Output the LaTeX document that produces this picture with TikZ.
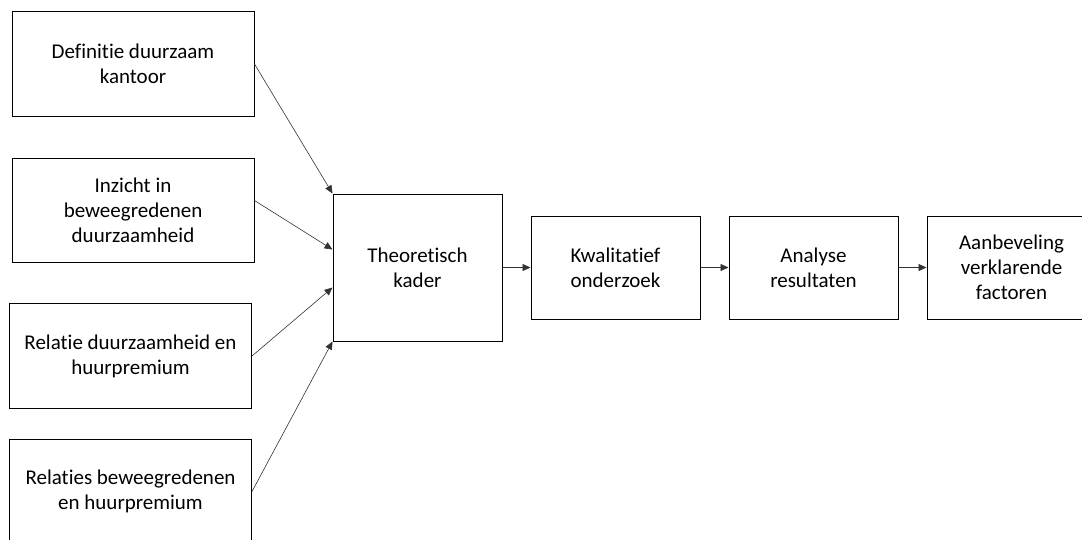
\documentclass[tikz,border=0pt]{standalone}
\usepackage{fontspec}
\setmainfont{Carlito}[Ligatures=NoCommon]
\usetikzlibrary{positioning,arrows.meta}
\tikzset{
inbox/.style={
draw,
line width=1pt,
minimum width=242pt,
minimum height=104.5pt,
align=center,
font=\fontsize{21}{25}\selectfont
},
stepbox/.style={
draw,
line width=1pt,
minimum width=169pt,
minimum height=103pt,
align=center,
font=\fontsize{21}{25}\selectfont
},
arrow/.style={
-{Triangle[length=8pt,width=7pt]},
line width=0.6pt,
draw=black!80
}
}

\begin{document}
\begin{tikzpicture}[x=1pt,y=-1pt,node distance=28pt]
\useasboundingbox (0,0) rectangle (1082,539);

% inputs
\node[inbox](def) at (133,64){Definitie duurzaam\\kantoor};
\node[inbox,below=41pt of def](inz){Inzicht in\\beweegredenen\\duurzaamheid};
\node[inbox,below=40pt of inz,xshift=-2.5pt](rel){Relatie duurzaamheid en\\huurpremium};
\node[inbox,below=30pt of rel](rels){Relaties beweegredenen\\en huurpremium};

% main steps
\node[stepbox,minimum height=147pt](theo) at (417.5,267.5){Theoretisch\\kader};
\node[stepbox,right=of theo](kwal){Kwalitatief\\onderzoek};
\node[stepbox,right=of kwal](ana){Analyse\\resultaten};
\node[stepbox,right=of ana](aanb){Aanbeveling\\verklarende\\factoren};

\draw[arrow](def.east)--(theo.north west);
\draw[arrow]([yshift=10pt]inz.east)--([yshift=18pt]theo.west);
\draw[arrow](rel.east)--([yshift=-20pt]theo.west);
\draw[arrow](rels.east)--(theo.south west);

\foreach \x/\y in {theo/kwal,kwal/ana,ana/aanb}
\draw[arrow](\x)--(\y);
\end{tikzpicture}
\end{document}
